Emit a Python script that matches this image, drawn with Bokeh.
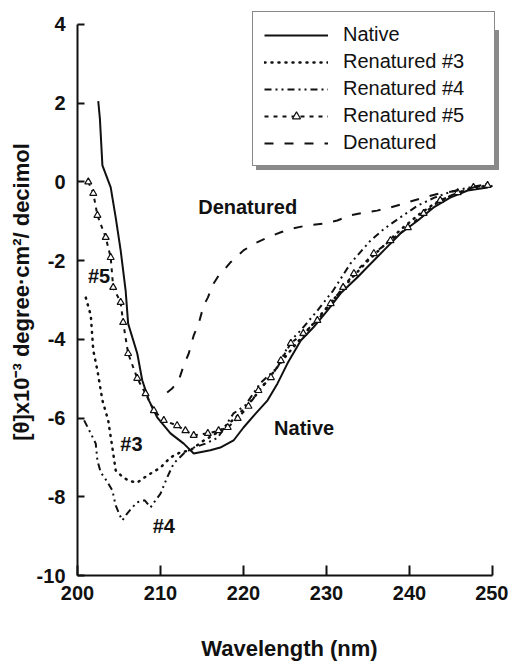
from bokeh.plotting import figure
from bokeh.models import FixedTicker, Legend, LegendItem, Range1d, PrintfTickFormatter
from bokeh.core.properties import value
from bokeh.embed import file_html
from bokeh.resources import INLINE

# ---- data (wavelength nm, [theta] x10^-3) ----
native_wl = [202.5, 202.7, 203.0, 204.0, 204.6, 205.2, 205.8, 206.1, 207.2, 207.8, 208.6, 209.6,
             211.2, 212.8, 214.0, 216.0, 217.2, 218.8, 220.0, 221.4, 222.9, 224.1, 225.3, 226.9,
             228.4, 230.1, 231.7, 233.7, 234.9, 236.9, 238.9, 241.0, 242.9, 244.9, 247.0, 249.4, 250.0]
native_th = [2.05, 1.6, 0.42, -0.14, -0.90, -1.74, -2.76, -3.6, -4.36, -5.04, -5.55, -5.98,
             -6.39, -6.65, -6.9, -6.82, -6.75, -6.57, -6.24, -5.9, -5.55, -5.12, -4.61, -4.03,
             -3.7, -3.27, -2.83, -2.43, -2.17, -1.74, -1.31, -0.98, -0.65, -0.40, -0.22, -0.14, -0.1]

ren3_wl = [201.0, 201.6, 201.9, 202.4, 203.0, 203.7, 204.2, 204.6, 205.5, 206.3, 207.2, 208.4,
           210.0, 211.2, 212.4, 213.6, 215.0, 217.0, 219.0, 221.0, 223.0, 225.0, 227.0, 229.0,
           231.0, 233.0, 235.0, 237.0, 239.0, 241.0, 243.0, 245.0, 247.0, 249.5]
ren3_th = [-2.94, -3.39, -4.28, -4.79, -5.55, -6.06, -6.75, -7.33, -7.51, -7.6, -7.64, -7.46,
           -7.26, -7.0, -6.87, -6.82, -6.6, -6.35, -6.0, -5.55, -5.0, -4.45, -3.95, -3.45,
           -2.95, -2.45, -2.0, -1.6, -1.2, -0.85, -0.55, -0.35, -0.2, -0.08]

ren4_wl = [200.8, 201.6, 202.2, 202.4, 202.8, 203.5, 204.2, 204.6, 205.1, 205.4, 206.0, 206.6,
           207.2, 208.1, 208.8, 209.4, 210.0, 210.8, 211.6, 212.8, 214.0, 215.4, 216.9, 218.8,
           220.2, 222.0, 224.1, 225.7, 226.9, 228.9, 230.8, 232.9, 235.3, 236.9, 238.9, 241.0,
           243.0, 245.0, 247.0, 249.5]
ren4_th = [-6.06, -6.39, -6.65, -7.08, -7.38, -7.59, -7.84, -8.22, -8.47, -8.6, -8.42, -8.27,
           -8.14, -8.09, -8.27, -8.09, -7.92, -7.51, -7.15, -6.9, -6.75, -6.65, -6.5, -5.88,
           -5.68, -5.12, -4.71, -4.03, -3.77, -3.27, -2.76, -2.07, -1.49, -1.2, -0.9, -0.6,
           -0.4, -0.25, -0.15, -0.05]

ren5_wl = [201.3, 201.9, 202.4, 203.4, 204.0, 204.3, 205.2, 205.5, 206.1, 207.2, 208.2, 209.2,
           210.4, 212.0, 213.0, 214.0, 215.7, 217.0, 218.1, 219.3, 220.6, 221.8, 223.3, 224.5,
           225.7, 227.2, 228.9, 230.5, 232.0, 233.3, 235.7, 237.7, 239.8, 241.7, 243.7, 245.8,
           247.7, 249.4]
ren5_th = [0.0, -0.29, -0.85, -1.41, -1.92, -2.68, -3.06, -3.57, -4.36, -4.99, -5.38, -5.81,
           -6.06, -6.19, -6.32, -6.44, -6.39, -6.32, -6.24, -6.01, -5.7, -5.3, -4.97, -4.54,
           -4.1, -3.85, -3.52, -3.09, -2.68, -2.33, -1.82, -1.49, -1.16, -0.8, -0.47, -0.27,
           -0.14, -0.09]

den_wl = [210.8, 211.4, 212.2, 212.8, 213.4, 214.0, 214.6, 215.2, 215.7, 216.4, 217.0, 217.6,
          218.4, 220.0, 221.4, 222.9, 224.5, 226.0, 227.8, 229.6, 231.3, 232.9, 234.5, 236.1,
          237.7, 239.3, 241.7, 243.7, 245.8, 247.7, 249.4]
den_th = [-5.35, -5.25, -5.04, -4.66, -4.36, -3.9, -3.6, -3.14, -2.94, -2.58, -2.38, -2.25,
          -2.05, -1.74, -1.56, -1.41, -1.28, -1.18, -1.1, -1.06, -0.98, -0.85, -0.78, -0.73,
          -0.65, -0.55, -0.40, -0.29, -0.22, -0.14, -0.04]

series_names = ["Native", "Renatured #3", "Renatured #4", "Renatured #5", "Denatured"]

ann_text = ["Denatured", "Native", "#5", "#3", "#4"]
ann_x = [220.5, 227.3, 202.6, 206.5, 210.4]
ann_y = [-0.65, -6.25, -2.38, -6.65, -8.73]

x_ticks = [200, 210, 220, 230, 240, 250]
y_ticks = [-10, -8, -6, -4, -2, 0, 2, 4]

FONT = "Liberation Sans"
INK = "#111111"

# frame slightly larger than the axis span so the legend (which sits above the top tick) is not clipped
p = figure(frame_width=424, frame_height=567,
           x_range=Range1d(200, 251.08), y_range=Range1d(-10, 4.405),
           output_backend="svg", toolbar_location=None,
           min_border_left=77, min_border_right=7, min_border_top=8, min_border_bottom=87)
p.outline_line_color = None
p.grid.visible = False
p.background_fill_color = "white"
p.border_fill_color = "white"

r_nat = p.line(native_wl, native_th, line_color=INK, line_width=2)
r_r3 = p.line(ren3_wl, ren3_th, line_color=INK, line_width=2.5, line_dash="1 6", line_cap="round")
r_r4 = p.line(ren4_wl, ren4_th, line_color=INK, line_width=2, line_dash="7 4 2 4 2 4")
r_r5 = p.line(ren5_wl, ren5_th, line_color=INK, line_width=2, line_dash="4 5")
r_r5m = p.scatter(ren5_wl, ren5_th, marker="triangle", size=7, line_color=INK,
                  line_width=1.2, fill_color="white")
r_den = p.line(den_wl, den_th, line_color=INK, line_width=2, line_dash="9 11")

p.text(x=ann_x, y=ann_y, text=ann_text, text_font=value(FONT), text_font_style="bold",
       text_font_size="20px", text_align="center", text_baseline="middle", text_color=INK)

for ax in (p.xaxis[0], p.yaxis[0]):
    ax.axis_line_width = 2
    ax.axis_line_color = INK
    ax.major_tick_line_color = INK
    ax.major_tick_line_width = 2
    ax.minor_tick_line_color = None
    ax.major_tick_out = 0
    ax.major_label_text_font = FONT
    ax.major_label_text_font_style = "bold"
    ax.major_label_text_font_size = "20px"
    ax.major_label_text_color = INK
    ax.axis_label_text_font = FONT
    ax.axis_label_text_font_style = "bold"
    ax.axis_label_text_color = INK

p.xaxis.bounds = (x_ticks[0], x_ticks[-1])
p.yaxis.bounds = (y_ticks[0], y_ticks[-1])
p.xaxis.ticker = FixedTicker(ticks=x_ticks)
p.yaxis.ticker = FixedTicker(ticks=y_ticks)
p.xaxis.formatter = PrintfTickFormatter(format="%d")
p.yaxis.formatter = PrintfTickFormatter(format="%d")
p.xaxis.major_tick_in = 10
p.yaxis.major_tick_in = 7
p.xaxis.major_label_standoff = 10
p.yaxis.major_label_standoff = 12
p.xaxis.axis_label = "Wavelength (nm)"
p.xaxis.axis_label_text_font_size = "22px"
p.xaxis.axis_label_standoff = 33
p.yaxis.axis_label = "[θ]x10⁻³ degree·cm²/ decimol"
p.yaxis.axis_label_text_font_size = "22px"
p.yaxis.axis_label_standoff = 0

renderer_groups = [[r_nat], [r_r3], [r_r4], [r_r5, r_r5m], [r_den]]

common = dict(glyph_width=64, glyph_height=20, label_standoff=15, padding=11, spacing=4,
              label_width=140, label_text_font=FONT, label_text_font_size="20px", margin=0)

shadow = Legend(items=[LegendItem(label=" ", renderers=g) for g in renderer_groups],
                location=(179, 405), border_line_color="#8a8a8a", background_fill_color="#8a8a8a",
                background_fill_alpha=1, **common)
p.add_layout(shadow)

legend = Legend(items=[LegendItem(label=n, renderers=g) for n, g in zip(series_names, renderer_groups)],
                location=(175, 409), border_line_color=INK, border_line_width=1.5,
                background_fill_color="white", background_fill_alpha=1,
                label_text_color=INK, **common)
p.add_layout(legend)

open("out.html", "w").write(file_html(p, INLINE))
